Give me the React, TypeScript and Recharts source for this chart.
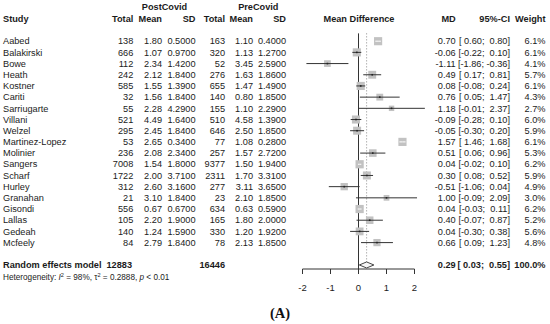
import { ScatterChart, Scatter, XAxis, YAxis, ReferenceLine } from "recharts";

const studies = [
  "Aabed", "Balakirski", "Bowe", "Heath", "Kostner", "Cariti", "Sarriugarte",
  "Villani", "Welzel", "Martinez-Lopez", "Molinier", "Sangers", "Scharf",
  "Hurley", "Granahan", "Gisondi", "Lallas", "Gedeah", "Mcfeely",
];
const postTotal = [138, 666, 112, 242, 585, 32, 55, 521, 295, 53, 236, 7008, 1722, 312, 21, 556, 105, 140, 84];
const postMean = [1.8, 1.07, 2.34, 2.12, 1.55, 1.56, 2.28, 4.49, 2.45, 2.65, 2.08, 1.54, 2.0, 2.6, 3.1, 0.67, 2.2, 1.24, 2.79];
const postSD = [0.5, 0.97, 1.42, 1.84, 1.39, 1.84, 4.29, 1.64, 1.84, 0.34, 2.34, 1.8, 3.71, 3.16, 1.84, 0.67, 1.9, 1.59, 1.84];
const preTotal = [163, 320, 52, 276, 655, 140, 155, 510, 646, 77, 257, 9377, 2311, 277, 23, 634, 165, 330, 78];
const preMean = [1.1, 1.13, 3.45, 1.63, 1.47, 0.8, 1.1, 4.58, 2.5, 1.08, 1.57, 1.5, 1.7, 3.11, 2.1, 0.63, 1.8, 1.2, 2.13];
const preSD = [0.4, 1.27, 2.59, 1.86, 1.49, 1.85, 2.29, 1.39, 1.85, 0.28, 2.72, 1.94, 3.31, 3.65, 1.85, 0.59, 2.0, 1.92, 1.85];
const md = [0.7, -0.06, -1.11, 0.49, 0.08, 0.76, 1.18, -0.09, -0.05, 1.57, 0.51, 0.04, 0.3, -0.51, 1.0, 0.04, 0.4, 0.04, 0.66];
const ciLow = [0.6, -0.22, -1.86, 0.17, -0.08, 0.05, -0.01, -0.28, -0.3, 1.46, 0.06, -0.02, 0.08, -1.06, -0.09, -0.03, -0.07, -0.3, 0.09];
const ciHigh = [0.8, 0.1, -0.36, 0.81, 0.24, 1.47, 2.37, 0.1, 0.2, 1.68, 0.96, 0.1, 0.52, 0.04, 2.09, 0.11, 0.87, 0.38, 1.23];
const weight = [6.1, 6.1, 4.1, 5.7, 6.1, 4.3, 2.7, 6.0, 5.9, 6.1, 5.3, 6.2, 5.9, 4.9, 3.0, 6.2, 5.2, 5.6, 4.8];

const pooledMD = 0.29;
const pooledLow = 0.03;
const pooledHigh = 0.55;
const pooledTotals = [12883, 16446];
const hetI2 = "98%";
const hetTau2 = "0.2888";
const hetP = "0.01";

const xTicks = [-2, -1, 0, 1, 2];

const FONT = '"Liberation Sans", Arial, Helvetica, sans-serif';
const FS = 9.2;
const INK = "#1b1b1b";
const BOX = "#c2c2c2";
const LINE = "#333";

const W = 550;
const H = 324;
const MARGIN = { top: 4.27, right: 124.3, bottom: 25, left: 302.5 };
const X_DOMAIN: [number, number] = [-2, 2.4];
const Y_DOMAIN: [number, number] = [-3.3, 20.36];
const PX_PER_UNIT = (W - MARGIN.left - MARGIN.right) / (X_DOMAIN[1] - X_DOMAIN[0]);

const HEADER_ROW = -2;
const POOLED_ROW = studies.length + 1;
const DIAMOND_H = 0.27;

// right edges of the table columns
const COL = {
  study: 3,
  postTotal: 133.3,
  postMean: 162,
  postSD: 195.5,
  preTotal: 225,
  preMean: 253,
  preSD: 286,
  forest: 359,
  md: 455.7,
  ci: 510,
  weight: 545.5,
};

const fmt = (v: number, d = 2) => v.toFixed(d);
const pad = (v: number) => (v < 0 ? fmt(v) : " " + fmt(v));
const ciText = (lo: number, hi: number) => `[${pad(lo)}; ${pad(hi)}]`;
const boxSide = (w: number) => 3.3 * Math.sqrt(w);
const ciInside = (i: number) => (ciHigh[i] - ciLow[i]) * PX_PER_UNIT < boxSide(weight[i]);

const rows = studies.map((_, i) => ({ x: md[i], y: i, i }));
const ciRows = studies.map((_, i) => [
  { x: ciLow[i], y: i, i },
  { x: md[i], y: i, i, mid: true },
  { x: ciHigh[i], y: i, i },
]);
const header = [{ x: 0, y: HEADER_ROW }];
const pooledRow = [{ x: pooledMD, y: POOLED_ROW }];
const diamond = [
  { x: pooledLow, y: POOLED_ROW },
  { x: pooledMD, y: POOLED_ROW - DIAMOND_H },
  { x: pooledHigh, y: POOLED_ROW },
  { x: pooledMD, y: POOLED_ROW + DIAMOND_H },
  { x: pooledLow, y: POOLED_ROW },
];

function Label({ x, y, anchor = "end", bold = false, size = FS, children }: any) {
  return (
    <text
      x={x}
      y={y}
      dy="0.35em"
      textAnchor={anchor}
      fontFamily={FONT}
      fontSize={size}
      fontWeight={bold ? 700 : 400}
      fill={INK}
      style={{ whiteSpace: "pre" }}
    >
      {children}
    </text>
  );
}

function HeaderShape(props: any) {
  const { cy } = props;
  const top = cy - 12.5;
  return (
    <g>
      <Label x={164.5} y={top} anchor="middle" bold>PostCovid</Label>
      <Label x={258.3} y={top} anchor="middle" bold>PreCovid</Label>
      <Label x={COL.study} y={cy} anchor="start" bold>Study</Label>
      <Label x={COL.postTotal} y={cy} bold>Total</Label>
      <Label x={COL.postMean} y={cy} bold>Mean</Label>
      <Label x={COL.postSD} y={cy} bold>SD</Label>
      <Label x={COL.preTotal} y={cy} bold>Total</Label>
      <Label x={COL.preMean} y={cy} bold>Mean</Label>
      <Label x={COL.preSD} y={cy} bold>SD</Label>
      <Label x={COL.forest} y={cy} anchor="middle" bold>Mean Difference</Label>
      <Label x={COL.md} y={cy} bold>MD</Label>
      <Label x={COL.ci} y={cy} bold>95%-CI</Label>
      <Label x={COL.weight} y={cy} bold>Weight</Label>
    </g>
  );
}

function StudyShape(props: any) {
  const { cx, cy, payload } = props;
  const i = payload.i;
  const side = boxSide(weight[i]);
  return (
    <g>
      <Label x={COL.study} y={cy} anchor="start">{studies[i]}</Label>
      <Label x={COL.postTotal} y={cy}>{postTotal[i]}</Label>
      <Label x={COL.postMean} y={cy}>{fmt(postMean[i])}</Label>
      <Label x={COL.postSD} y={cy}>{fmt(postSD[i], 4)}</Label>
      <Label x={COL.preTotal} y={cy}>{preTotal[i]}</Label>
      <Label x={COL.preMean} y={cy}>{fmt(preMean[i])}</Label>
      <Label x={COL.preSD} y={cy}>{fmt(preSD[i], 4)}</Label>
      <Label x={COL.md} y={cy}>{fmt(md[i])}</Label>
      <Label x={COL.ci} y={cy}>{ciText(ciLow[i], ciHigh[i])}</Label>
      <Label x={COL.weight} y={cy}>{fmt(weight[i], 1)}%</Label>
      <rect x={cx - side / 2} y={cy - side / 2} width={side} height={side} fill={BOX} />
    </g>
  );
}

function CiDot(props: any) {
  const { cx, cy, payload } = props;
  if (!payload.mid || ciInside(payload.i)) return <g />;
  return <rect x={cx - 0.8} y={cy - 0.8} width={1.6} height={1.6} fill="#222" />;
}

function PooledShape(props: any) {
  const { cy } = props;
  const het = cy + 12.4;
  return (
    <g>
      <Label x={COL.study} y={cy} anchor="start" bold>Random effects model</Label>
      <Label x={132} y={cy} bold>{pooledTotals[0]}</Label>
      <Label x={COL.preTotal} y={cy} bold>{pooledTotals[1]}</Label>
      <Label x={COL.md} y={cy} bold>{fmt(pooledMD)}</Label>
      <Label x={COL.ci} y={cy} bold>{ciText(pooledLow, pooledHigh)}</Label>
      <Label x={COL.weight} y={cy} bold>100.0%</Label>
      <text x={COL.study} y={het} dy="0.35em" fontFamily={FONT} fontSize={8.2} fill={INK} style={{ whiteSpace: "pre" }}>
        {"Heterogeneity: "}
        <tspan fontStyle="italic">I</tspan>
        <tspan dy={-3} fontSize={5.6}>2</tspan>
        <tspan dy={3}>{` = ${hetI2}, τ`}</tspan>
        <tspan dy={-3} fontSize={5.6}>2</tspan>
        <tspan dy={3}>{` = ${hetTau2}, `}</tspan>
        <tspan fontStyle="italic">p</tspan>
        {` < ${hetP}`}
      </text>
    </g>
  );
}

export default function App() {
  return (
    <div style={{ position: "absolute", left: 0, top: 0, width: W, height: H, background: "#fff" }}>
      <ScatterChart width={W} height={H} margin={MARGIN}>
        <XAxis
          dataKey="x"
          type="number"
          domain={X_DOMAIN}
          ticks={xTicks}
          interval={0}
          axisLine={false}
          tickLine={{ stroke: LINE }}
          tickSize={5}
          tickMargin={10}
          tick={{ fontSize: 9.5, fill: INK, fontFamily: FONT }}
        />
        <YAxis dataKey="y" type="number" domain={Y_DOMAIN} reversed hide />

        {/* axis baseline only from -2 to 2 */}
        <ReferenceLine
          segment={[{ x: -2, y: Y_DOMAIN[1] }, { x: 2, y: Y_DOMAIN[1] }]}
          stroke={LINE}
          ifOverflow="visible"
        />
        <ReferenceLine
          segment={[{ x: 0, y: -0.7 }, { x: 0, y: Y_DOMAIN[1] }]}
          stroke={LINE}
          ifOverflow="visible"
        />
        <ReferenceLine
          segment={[{ x: pooledMD, y: -0.7 }, { x: pooledMD, y: POOLED_ROW - DIAMOND_H }]}
          stroke="#8a8a8a"
          strokeDasharray="1 2"
          ifOverflow="visible"
        />

        <Scatter data={header} shape={HeaderShape} isAnimationActive={false} />
        <Scatter data={rows} shape={StudyShape} isAnimationActive={false} />
        {ciRows.map((pts, i) => (
          <Scatter
            key={studies[i]}
            data={pts}
            line={{ stroke: ciInside(i) ? "#fff" : LINE, strokeWidth: 1 }}
            shape={CiDot}
            isAnimationActive={false}
          />
        ))}
        <Scatter
          data={diamond}
          line={{ stroke: "#444", strokeWidth: 1, fill: "#f6f6f6" }}
          shape={() => <g />}
          isAnimationActive={false}
        />
        <Scatter data={pooledRow} shape={PooledShape} isAnimationActive={false} />
      </ScatterChart>
      <div
        style={{
          position: "absolute",
          left: 270,
          top: 306,
          fontFamily: '"Liberation Serif", "Times New Roman", serif',
          fontWeight: 700,
          fontSize: 14.5,
          lineHeight: 1,
          color: "#111",
        }}
      >
        (A)
      </div>
    </div>
  );
}
